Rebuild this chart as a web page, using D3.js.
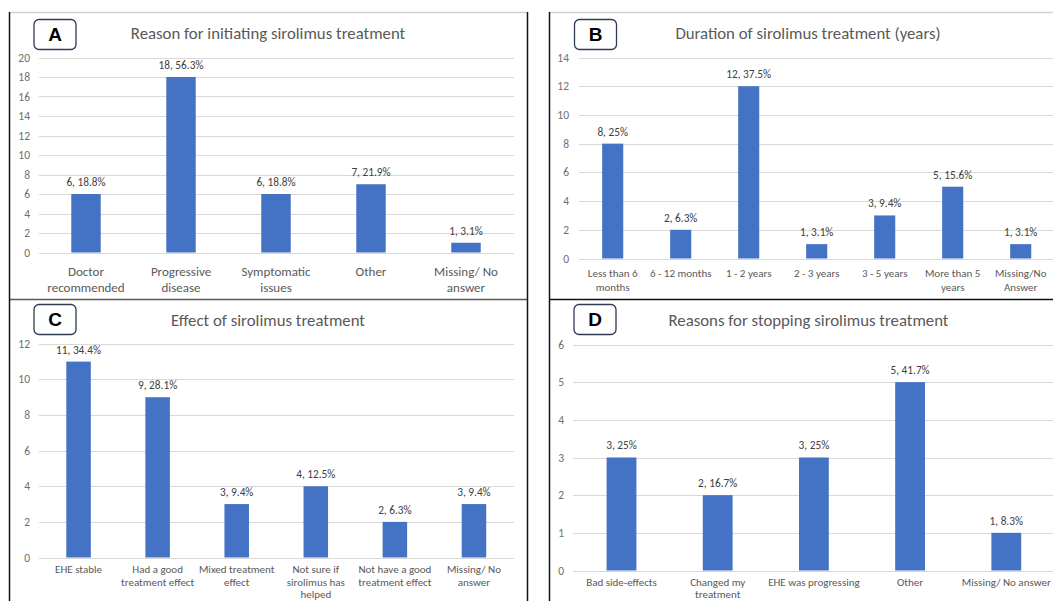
<!doctype html>
<html lang="en">
<head>
  <meta charset="utf-8">
  <title>Sirolimus treatment survey</title>
  <style type="text/css">
    body{ margin:0; background:#fff; }
    text{ font-family: Carlito, Calibri, Lato, "Open Sans", sans-serif; }
    .grid line{ stroke:#d9d9d9; stroke-width:1; shape-rendering:crispEdges; }
  </style>
</head>
<body>
  <div id="vis"></div>
  <script src="https://cdn.jsdelivr.net/npm/d3@7"></script>
  <script type="text/javascript">

    // panel A
    var catsA = [['Doctor','recommended'],['Progressive','disease'],['Symptomatic','issues'],['Other'],['Missing/ No','answer']],
      valsA = [6,18,6,7,1],
      pctA = [18.8,56.3,18.8,21.9,3.1],
      ticksA = [0,2,4,6,8,10,12,14,16,18,20];

    // panel B
    var catsB = [['Less than 6','months'],['6 - 12 months'],['1 - 2 years'],['2 - 3 years'],['3 - 5 years'],['More than 5','years'],['Missing/No','Answer']],
      valsB = [8,2,12,1,3,5,1],
      pctB = [25,6.3,37.5,3.1,9.4,15.6,3.1],
      ticksB = [0,2,4,6,8,10,12,14];

    // panel C
    var catsC = [['EHE stable'],['Had a good','treatment effect'],['Mixed treatment','effect'],['Not sure if','sirolimus has','helped'],['Not have a good','treatment effect'],['Missing/ No','answer']],
      valsC = [11,9,3,4,2,3],
      pctC = [34.4,28.1,9.4,12.5,6.3,9.4],
      ticksC = [0,2,4,6,8,10,12];

    // panel D
    var catsD = [['Bad side-effects'],['Changed my','treatment'],['EHE was progressing'],['Other'],['Missing/ No answer']],
      valsD = [3,2,3,5,1],
      pctD = [25,16.7,25,41.7,8.3],
      ticksD = [0,1,2,3,4,5,6];

    var titles = ['Reason for initiating sirolimus treatment','Duration of sirolimus treatment (years)',
      'Effect of sirolimus treatment','Reasons for stopping sirolimus treatment'];
    var letters = ['A','B','C','D'];

    var width = 1053, height = 601;

    // layout of each panel (pixels)
    var panels = [
      {cats:catsA, vals:valsA, pct:pctA, ticks:ticksA, x0:38.5, x1:513.5, yTop:57.5, yBot:252.5, tickX:30,
        titleX:268, titleY:33, box:[34,19.5], catY:271, catSize:13, catGap:16.5},
      {cats:catsB, vals:valsB, pct:pctB, ticks:ticksB, x0:578.7, x1:1054.7, yTop:57.5, yBot:258.5, tickX:569,
        titleX:808, titleY:33, box:[574.5,19.5], catY:273.5, catSize:11, catGap:13.5},
      {cats:catsC, vals:valsC, pct:pctC, ticks:ticksC, x0:39, x1:513.5, yTop:343.8, yBot:557.5, tickX:30,
        titleX:268, titleY:320, box:[34,304.5], catY:569.5, catSize:11, catGap:12.5},
      {cats:catsD, vals:valsD, pct:pctD, ticks:ticksD, x0:573.4, x1:1054.4, yTop:344.5, yBot:570.5, tickX:564,
        titleX:808.5, titleY:320, box:[574,304.5], catY:582.5, catSize:11, catGap:12}
    ];

    var vis = d3.select('#vis').append('svg').attr('width',width).attr('height',height);

    panels.forEach(function(p,pi){
      var g = vis.append('g');
      var x = d3.scaleBand().domain(d3.range(p.cats.length)).range([p.x0,p.x1]).paddingInner(0.69).paddingOuter(0.345);
      var y = d3.scaleLinear().domain([0, d3.max(p.ticks)]).range([p.yBot,p.yTop]);

      g.append('g').attr('class','grid').selectAll('line').data(p.ticks).enter().append('line')
        .attr('x1', p.x0).attr('x2', p.x1)
        .attr('y1', function(d){ return Math.round(y(d))+0.5; })
        .attr('y2', function(d){ return Math.round(y(d))+0.5; });

      g.selectAll('text.tick').data(p.ticks).enter().append('text')
        .attr('class','tick')
        .attr('x', p.tickX).attr('y', function(d){ return y(d); })
        .attr('dy','0.35em').attr('text-anchor','end')
        .style('font-size','11.5px').style('fill','#6f6f6f')
        .text(function(d){ return d; });

      g.selectAll('rect.bar').data(p.vals).enter().append('rect')
        .attr('class','bar')
        .attr('x', function(d,i){ return x(i); })
        .attr('width', x.bandwidth())
        .attr('y', function(d){ return y(d); })
        .attr('height', function(d){ return y(0)-y(d); })
        .style('fill','#4472c4');

      g.selectAll('text.val').data(p.vals).enter().append('text')
        .attr('class','val')
        .attr('x', function(d,i){ return x(i)+x.bandwidth()/2; })
        .attr('y', function(d){ return y(d)-12; })
        .attr('dy','0.35em').attr('text-anchor','middle')
        .style('font-size','11.3px').style('fill','#404040')
        .text(function(d,i){ return d+', '+p.pct[i]+'%'; });

      var cl = g.selectAll('text.cat').data(p.cats).enter().append('text')
        .attr('class','cat')
        .attr('text-anchor','middle')
        .style('font-size',p.catSize+'px').style('fill','#595959');
      cl.selectAll('tspan').data(function(d,i){ return d.map(function(s){ return {s:s,i:i}; }); }).enter().append('tspan')
        .attr('x', function(d){ return x(d.i)+x.bandwidth()/2; })
        .attr('y', function(d,j){ return p.catY + j*p.catGap; })
        .attr('dy','0.35em')
        .text(function(d){ return d.s; });

      g.append('text')
        .attr('x', p.titleX).attr('y', p.titleY)
        .attr('dy','0.35em').attr('text-anchor','middle')
        .style('font-size','16.8px').style('fill','#595959')
        .text(titles[pi]);

      g.append('rect')
        .attr('x', p.box[0]).attr('y', p.box[1])
        .attr('width', 42).attr('height', 30).attr('rx', 5)
        .style('fill','#fff').style('stroke','#2f3b52').style('stroke-width',1.3);
      g.append('text')
        .attr('x', p.box[0]+21).attr('y', p.box[1]+15)
        .attr('dy','0.36em').attr('text-anchor','middle')
        .style('font-family','"Liberation Sans", Arial, sans-serif')
        .style('font-size','19px').style('font-weight','bold').style('fill','#000')
        .text(letters[pi]);
    });

    // panel borders
    var borders = [
      [9,12.5,527,12.5,'#d0d0d0'], [549,12.5,1053,12.5,'#d0d0d0'],
      [9,299.5,527,299.5,'#595959'], [549,299.5,1053,299.5,'#111'],
      [9.5,12,9.5,601,'#111'], [527.5,12,527.5,601,'#111'], [549.5,12,549.5,601,'#111']
    ];
    vis.selectAll('line.border').data(borders).enter().append('line')
      .attr('class','border')
      .attr('x1',function(d){ return d[0]; }).attr('y1',function(d){ return d[1]; })
      .attr('x2',function(d){ return d[2]; }).attr('y2',function(d){ return d[3]; })
      .style('stroke',function(d){ return d[4]; }).style('stroke-width',1.5);

  </script>
</body>
</html>
